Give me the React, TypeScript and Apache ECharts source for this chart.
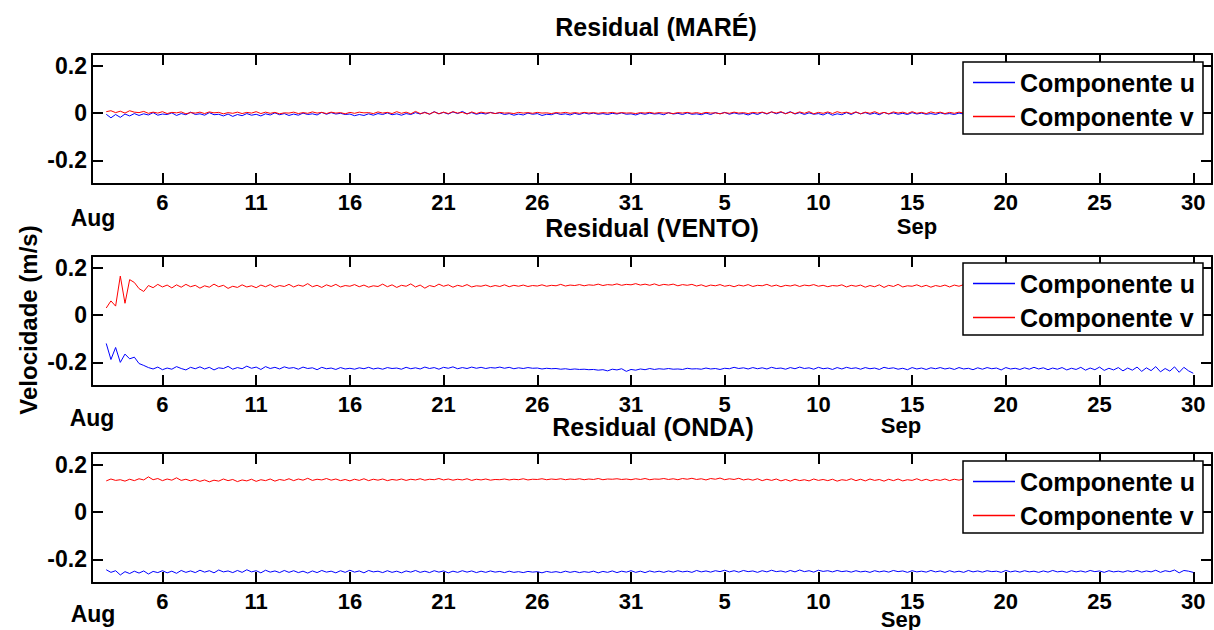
import React, { useEffect, useRef } from "react";
import * as echarts from "echarts";

// time axis: day number, Aug d = d, Sep d = 31 + d
const T_START = 3;
const T_STEP = 0.25;
const X_MIN = 2.24;
const X_MAX = 62;
const TICK_DAYS = [6, 11, 16, 21, 26, 31, 36, 41, 46, 51, 56, 61];
const Y_TICKS = [-0.2, 0, 0.2];
const Y_MIN = -0.3;
const Y_MAX = 0.25;
const PANEL_TITLES = ["Residual (MARÉ)", "Residual (VENTO)", "Residual (ONDA)"];
const SERIES_NAMES = ["Componente u", "Componente v"];
const Y_LABEL = "Velocidade (m/s)";

const MARE_U = [
  -0.005, -0.02, -0.006, -0.018, -0.004, -0.012, -0.002, -0.01, -0.003, -0.008, 0.002, -0.009, -0.004, -0.006, 0.001, -0.01, -0.002, -0.007, 0.004, -0.006,
  -0.003, -0.009, 0.002, -0.007, -0.005, -0.012, -0.004, -0.014, -0.006, -0.011, -0.002, -0.009, -0.005, -0.012, -0.003, -0.008, 0.001, -0.007, -0.002, -0.01,
  -0.004, -0.009, 0.0, -0.006, -0.003, -0.008, 0.003, -0.005, 0.002, -0.004, -0.001, -0.006, -0.004, -0.011, -0.006, -0.01, -0.003, -0.009, -0.002, -0.006,
  0.001, -0.007, -0.003, -0.009, -0.002, -0.006, 0.002, -0.004, 0.004, -0.005, 0.006, -0.003, 0.003, -0.004, 0.005, -0.002, 0.007, -0.003, 0.002, -0.005,
  0.0, -0.004, 0.003, -0.002, 0.001, -0.006, -0.002, -0.009, -0.004, -0.008, 0.0, -0.005, -0.002, -0.01, -0.005, -0.007, 0.0, -0.006, -0.003, -0.008,
  -0.001, -0.006, 0.001, -0.004, 0.0, -0.005, -0.002, -0.006, -0.001, -0.004, 0.001, -0.005, -0.003, -0.008, -0.001, -0.005, 0.0, -0.004, -0.002, -0.007,
  0.002, -0.004, -0.001, -0.006, 0.001, -0.005, -0.003, -0.007, 0.0, -0.006, 0.002, -0.003, 0.003, -0.005, 0.001, -0.004, -0.002, -0.008, 0.0, -0.006,
  0.003, -0.004, 0.005, -0.003, 0.004, -0.002, 0.006, -0.004, 0.002, -0.006, 0.001, -0.005, -0.002, -0.008, 0.001, -0.009, -0.003, -0.007, 0.002, -0.006,
  0.004, -0.003, 0.002, -0.005, 0.0, -0.007, 0.003, -0.004, 0.001, -0.005, -0.001, -0.006, 0.002, -0.004, 0.0, -0.005, -0.002, -0.006, 0.001, -0.004,
  -0.002, -0.006, 0.0, -0.004, -0.001, -0.005, 0.001, -0.004, 0.0, -0.006, -0.002, -0.005, 0.001, -0.004, -0.001, -0.006, 0.0, -0.005, 0.002, -0.004,
  0.0, -0.005, 0.001, -0.004, -0.002, -0.006, 0.001, -0.005, 0.002, -0.003, 0.0, -0.005, -0.001, -0.006, 0.001, -0.004, 0.0, -0.005, 0.002, -0.004,
  0.0, -0.005, 0.001, -0.004, -0.002, -0.006, 0.0, -0.005, 0.002, -0.004, 0.001, -0.005, -0.002,
];

const MARE_V = [
  0.006, 0.01, 0.002, 0.008, 0.0, 0.01, 0.004, 0.002, 0.007, -0.001, 0.004, 0.0, 0.006, -0.002, 0.003, 0.001, 0.005, -0.003, 0.002, 0.0,
  0.004, -0.002, 0.005, 0.001, 0.003, -0.003, 0.002, -0.001, 0.004, -0.002, 0.003, 0.0, 0.006, -0.002, 0.004, -0.001, 0.003, -0.003, 0.001, 0.0,
  0.004, -0.002, 0.002, -0.001, 0.005, 0.0, 0.003, -0.002, 0.004, 0.0, 0.002, -0.003, 0.003, -0.001, 0.004, 0.001, 0.002, -0.002, 0.005, 0.0,
  0.003, -0.002, 0.006, -0.001, 0.004, -0.003, 0.007, -0.002, 0.002, -0.004, 0.005, -0.003, 0.004, -0.002, 0.006, 0.0, 0.003, -0.004, 0.005, -0.002,
  0.004, 0.0, 0.002, -0.002, 0.003, 0.0, 0.001, -0.002, 0.003, 0.0, 0.002, -0.001, 0.003, 0.0, 0.001, -0.002, 0.002, 0.0, 0.003, -0.001,
  0.002, -0.001, 0.003, 0.0, 0.002, -0.001, 0.002, 0.0, 0.003, -0.001, 0.002, 0.0, 0.001, -0.002, 0.002, 0.0, 0.003, -0.001, 0.002, 0.0,
  0.001, -0.002, 0.002, 0.0, 0.003, -0.001, 0.002, -0.002, 0.003, 0.0, 0.001, -0.003, 0.002, -0.001, 0.004, 0.0, 0.002, -0.002, 0.003, 0.0,
  0.004, -0.002, 0.005, 0.0, 0.006, -0.003, 0.004, -0.002, 0.005, -0.001, 0.006, -0.003, 0.003, -0.001, 0.005, -0.002, 0.006, 0.0, 0.004, -0.002,
  0.005, -0.003, 0.004, -0.001, 0.006, -0.002, 0.003, -0.003, 0.005, 0.0, 0.004, -0.002, 0.006, -0.001, 0.003, -0.002, 0.005, 0.0, 0.004, -0.002,
  0.003, -0.001, 0.004, 0.0, 0.002, -0.002, 0.003, 0.0, 0.004, -0.001, 0.002, -0.002, 0.003, 0.0, 0.004, -0.001, 0.002, 0.0, 0.003, -0.001,
  0.004, -0.001, 0.003, 0.0, 0.002, -0.002, 0.004, 0.0, 0.003, -0.001, 0.002, 0.0, 0.004, -0.002, 0.003, 0.0, 0.002, -0.001, 0.003, 0.0,
  0.004, -0.001, 0.002, 0.0, 0.003, -0.002, 0.004, 0.0, 0.002, -0.001, 0.003, 0.0, 0.002,
];

const VENTO_U = [
  -0.12, -0.188, -0.137, -0.2, -0.165, -0.185, -0.178, -0.205, -0.213, -0.222, -0.228, -0.22, -0.231, -0.224, -0.229, -0.218, -0.226, -0.232, -0.221, -0.227,
  -0.219, -0.228, -0.221, -0.232, -0.223, -0.226, -0.217, -0.229, -0.222, -0.227, -0.216, -0.225, -0.22, -0.23, -0.218, -0.226, -0.221, -0.228, -0.219, -0.225,
  -0.222, -0.229, -0.22, -0.226, -0.223, -0.231, -0.221, -0.227, -0.224, -0.23, -0.222, -0.228, -0.225, -0.229, -0.223, -0.227, -0.221, -0.228, -0.224, -0.229,
  -0.222, -0.226, -0.224, -0.229, -0.221, -0.227, -0.223, -0.228, -0.22, -0.226, -0.222, -0.229, -0.221, -0.225, -0.219, -0.227, -0.222, -0.226, -0.22, -0.225,
  -0.221, -0.226, -0.222, -0.224, -0.22, -0.225, -0.221, -0.227, -0.223, -0.226, -0.222, -0.225, -0.224, -0.228, -0.225, -0.227, -0.226, -0.229, -0.227, -0.23,
  -0.228, -0.23, -0.229, -0.231, -0.23, -0.233, -0.231, -0.236, -0.229, -0.232, -0.227, -0.238, -0.23, -0.233, -0.228, -0.231, -0.226, -0.23, -0.227, -0.229,
  -0.226, -0.229, -0.228, -0.23, -0.225, -0.228, -0.227, -0.229, -0.224, -0.228, -0.226, -0.23, -0.225, -0.227, -0.221, -0.226, -0.223, -0.228, -0.222, -0.227,
  -0.223, -0.228, -0.221, -0.226, -0.224, -0.229, -0.222, -0.227, -0.22, -0.226, -0.223, -0.229, -0.221, -0.227, -0.224, -0.23, -0.222, -0.228, -0.221, -0.226,
  -0.223, -0.229, -0.222, -0.227, -0.224, -0.23, -0.221, -0.226, -0.223, -0.229, -0.225, -0.231, -0.222, -0.228, -0.224, -0.23, -0.223, -0.227, -0.222, -0.228,
  -0.224, -0.23, -0.222, -0.228, -0.225, -0.231, -0.223, -0.229, -0.222, -0.227, -0.224, -0.232, -0.222, -0.228, -0.225, -0.23, -0.223, -0.229, -0.221, -0.228,
  -0.223, -0.231, -0.224, -0.229, -0.222, -0.232, -0.225, -0.23, -0.221, -0.233, -0.224, -0.231, -0.22, -0.234, -0.225, -0.232, -0.222, -0.236, -0.224, -0.233,
  -0.22, -0.238, -0.223, -0.235, -0.218, -0.24, -0.226, -0.237, -0.219, -0.242, -0.221, -0.236, -0.246,
];

const VENTO_V = [
  0.03, 0.06, 0.038, 0.165, 0.05, 0.15, 0.138, 0.112, 0.1, 0.125, 0.116, 0.13, 0.119, 0.127, 0.115, 0.128, 0.118, 0.13, 0.12, 0.126,
  0.114, 0.124, 0.118, 0.131, 0.12, 0.126, 0.113, 0.122, 0.117, 0.128, 0.119, 0.124, 0.116, 0.127, 0.12, 0.129, 0.118, 0.125, 0.121, 0.13,
  0.119, 0.127, 0.122, 0.133, 0.12, 0.126, 0.117, 0.128, 0.121, 0.13, 0.119, 0.125, 0.122, 0.129, 0.12, 0.127, 0.118, 0.124, 0.121, 0.131,
  0.12, 0.128, 0.117, 0.126, 0.122, 0.132, 0.119, 0.127, 0.114, 0.125, 0.12, 0.131, 0.122, 0.128, 0.118, 0.126, 0.121, 0.129, 0.119, 0.124,
  0.122, 0.127, 0.12, 0.125, 0.121, 0.128, 0.12, 0.126, 0.122, 0.127, 0.121, 0.125, 0.123, 0.128, 0.122, 0.126, 0.124, 0.13, 0.123, 0.127,
  0.125, 0.129, 0.124, 0.128, 0.126, 0.131, 0.125, 0.129, 0.127, 0.132, 0.126, 0.13, 0.128, 0.133, 0.127, 0.131, 0.126, 0.132, 0.125, 0.13,
  0.127, 0.131, 0.124, 0.129, 0.126, 0.13, 0.123, 0.128, 0.121, 0.127, 0.124, 0.129, 0.122, 0.126, 0.12, 0.127, 0.123, 0.129, 0.121, 0.126,
  0.124, 0.13, 0.122, 0.127, 0.12, 0.126, 0.123, 0.128, 0.121, 0.127, 0.124, 0.129, 0.122, 0.126, 0.12, 0.125, 0.123, 0.128, 0.119, 0.126,
  0.122, 0.127, 0.118, 0.125, 0.12, 0.128, 0.117, 0.126, 0.121, 0.13, 0.119, 0.124, 0.122, 0.128, 0.12, 0.126, 0.118, 0.125, 0.121, 0.127,
  0.119, 0.127, 0.122, 0.129, 0.12, 0.126, 0.118, 0.127, 0.121, 0.128, 0.119, 0.125, 0.122, 0.13, 0.12, 0.126, 0.118, 0.127, 0.121, 0.129,
  0.12, 0.126, 0.118, 0.128, 0.121, 0.127, 0.119, 0.125, 0.122, 0.129, 0.12, 0.126, 0.118, 0.127, 0.121, 0.128, 0.119, 0.125, 0.122, 0.128,
  0.12, 0.127, 0.118, 0.126, 0.121, 0.129, 0.119, 0.125, 0.122, 0.128, 0.12, 0.126, 0.121,
];

const ONDA_U = [
  -0.244, -0.255, -0.248, -0.266, -0.252, -0.26, -0.25, -0.258, -0.249, -0.262, -0.251, -0.256, -0.248, -0.257, -0.25, -0.259, -0.247, -0.255, -0.249, -0.256,
  -0.246, -0.254, -0.248, -0.257, -0.245, -0.253, -0.249, -0.256, -0.247, -0.255, -0.244, -0.253, -0.248, -0.257, -0.246, -0.254, -0.249, -0.256, -0.247, -0.255,
  -0.248, -0.256, -0.25, -0.258, -0.249, -0.256, -0.247, -0.254, -0.25, -0.257, -0.248, -0.255, -0.246, -0.254, -0.249, -0.257, -0.247, -0.253, -0.25, -0.256,
  -0.248, -0.255, -0.25, -0.257, -0.249, -0.254, -0.247, -0.255, -0.25, -0.256, -0.248, -0.254, -0.249, -0.257, -0.25, -0.255, -0.248, -0.254, -0.249, -0.256,
  -0.25, -0.255, -0.249, -0.254, -0.251, -0.256, -0.25, -0.255, -0.252, -0.256, -0.251, -0.254, -0.252, -0.257, -0.251, -0.255, -0.252, -0.256, -0.25, -0.255,
  -0.251, -0.256, -0.252, -0.255, -0.25, -0.257, -0.251, -0.255, -0.249, -0.256, -0.25, -0.254, -0.248, -0.255, -0.25, -0.256, -0.249, -0.254, -0.25, -0.255,
  -0.249, -0.254, -0.248, -0.253, -0.25, -0.255, -0.247, -0.253, -0.249, -0.254, -0.248, -0.252, -0.246, -0.253, -0.248, -0.254, -0.247, -0.252, -0.249, -0.255,
  -0.248, -0.253, -0.246, -0.252, -0.249, -0.254, -0.247, -0.253, -0.245, -0.252, -0.248, -0.254, -0.246, -0.251, -0.248, -0.253, -0.247, -0.252, -0.249, -0.254,
  -0.248, -0.253, -0.25, -0.255, -0.248, -0.253, -0.249, -0.254, -0.247, -0.252, -0.249, -0.255, -0.248, -0.253, -0.25, -0.254, -0.247, -0.253, -0.249, -0.255,
  -0.248, -0.254, -0.25, -0.255, -0.247, -0.253, -0.249, -0.254, -0.248, -0.252, -0.25, -0.255, -0.247, -0.253, -0.249, -0.254, -0.248, -0.253, -0.25, -0.255,
  -0.249, -0.254, -0.247, -0.253, -0.25, -0.255, -0.248, -0.253, -0.249, -0.254, -0.247, -0.252, -0.249, -0.255, -0.248, -0.253, -0.25, -0.254, -0.248, -0.253,
  -0.247, -0.254, -0.249, -0.253, -0.246, -0.255, -0.248, -0.252, -0.245, -0.257, -0.247, -0.25, -0.255,
];

const ONDA_V = [
  0.132, 0.14, 0.134, 0.137, 0.131, 0.139, 0.133, 0.141, 0.136, 0.149, 0.137, 0.142, 0.133, 0.14, 0.135, 0.145, 0.134, 0.139, 0.132, 0.138,
  0.13, 0.136, 0.128, 0.135, 0.131, 0.14, 0.133, 0.138, 0.129, 0.136, 0.132, 0.139, 0.13, 0.137, 0.133, 0.14, 0.131, 0.138, 0.134, 0.141,
  0.133, 0.14, 0.135, 0.143, 0.134, 0.139, 0.136, 0.142, 0.135, 0.14, 0.133, 0.138, 0.132, 0.139, 0.134, 0.141, 0.133, 0.139, 0.135, 0.14,
  0.133, 0.138, 0.135, 0.14, 0.134, 0.139, 0.136, 0.141, 0.135, 0.139, 0.137, 0.142, 0.136, 0.14, 0.135, 0.139, 0.136, 0.141, 0.134, 0.139,
  0.136, 0.14, 0.135, 0.138, 0.137, 0.14, 0.136, 0.139, 0.137, 0.141, 0.136, 0.139, 0.138, 0.141, 0.137, 0.14, 0.138, 0.141, 0.137, 0.14,
  0.138, 0.141, 0.137, 0.14, 0.138, 0.142, 0.137, 0.14, 0.139, 0.141, 0.138, 0.14, 0.137, 0.141, 0.138, 0.142, 0.137, 0.14, 0.139, 0.142,
  0.138, 0.141, 0.137, 0.142, 0.139, 0.143, 0.138, 0.141, 0.136, 0.142, 0.139, 0.144, 0.137, 0.141, 0.138, 0.143, 0.136, 0.14, 0.135, 0.141,
  0.133, 0.139, 0.134, 0.14, 0.132, 0.138, 0.131, 0.139, 0.133, 0.137, 0.132, 0.14, 0.134, 0.138, 0.133, 0.139, 0.131, 0.137, 0.134, 0.141,
  0.133, 0.139, 0.132, 0.14, 0.134, 0.138, 0.131, 0.139, 0.133, 0.14, 0.132, 0.137, 0.134, 0.141, 0.133, 0.139, 0.132, 0.138, 0.134, 0.14,
  0.133, 0.139, 0.135, 0.14, 0.133, 0.138, 0.134, 0.141, 0.132, 0.139, 0.134, 0.14, 0.133, 0.138, 0.135, 0.141, 0.133, 0.139, 0.134, 0.14,
  0.133, 0.138, 0.135, 0.141, 0.132, 0.139, 0.134, 0.14, 0.133, 0.138, 0.135, 0.141, 0.133, 0.139, 0.134, 0.14, 0.132, 0.138, 0.135, 0.141,
  0.133, 0.139, 0.134, 0.14, 0.132, 0.138, 0.135, 0.141, 0.133, 0.139, 0.134, 0.14, 0.133,
];

const PANELS = [
  { u: MARE_U, v: MARE_V },
  { u: VENTO_U, v: VENTO_V },
  { u: ONDA_U, v: ONDA_V },
];

// layout (pixels)
const FONT = "'Liberation Sans', Arial, Helvetica, sans-serif";
const GRID_LEFT = 92;
const GRID_WIDTH = 1120;
const GRID_HEIGHT = 130;
const GRID_TOPS = [54, 256, 453];
const LEGEND_TOPS = [62, 263, 461];
const TITLE_POS = [
  [656, 27],
  [652, 228],
  [653, 427],
];
const AUG_POS = [
  [93, 218],
  [92, 418],
  [93, 614],
];
const SEP_POS = [
  [917, 226],
  [901, 425],
  [901, 619],
];

const U_COLOR = "#0000ff";
const V_COLOR = "#ff0000";
const LEGEND_LINE_ICON = "path://M0,0 L42,0 L42,1.4 L0,1.4 Z";

function toPairs(values: number[]) {
  return values.map((v, i) => [T_START + i * T_STEP, v]);
}

function dayLabel(v: number) {
  const d = Math.round(v);
  return String(d <= 31 ? d : d - 31);
}

export default function App() {
  const ref = useRef<HTMLDivElement>(null);

  useEffect(() => {
    if (!ref.current) return;
    const chart = echarts.init(ref.current, undefined, { renderer: "svg" });

    const axisLine = { show: true, onZero: false, lineStyle: { color: "#000", width: 2 } };
    const tickStyle = { color: "#000", width: 2 };
    const grids: any[] = [];
    const xAxes: any[] = [];
    const yAxes: any[] = [];
    const series: any[] = [];
    const legends: any[] = [];
    const graphics: any[] = [];

    PANELS.forEach((panel, p) => {
      grids.push({ left: GRID_LEFT, top: GRID_TOPS[p], width: GRID_WIDTH, height: GRID_HEIGHT, containLabel: false });
      xAxes.push({
        type: "value",
        gridIndex: p,
        position: "bottom",
        min: X_MIN,
        max: X_MAX,
        axisLine,
        splitLine: { show: false },
        axisTick: { show: true, inside: true, length: 11, lineStyle: tickStyle, customValues: TICK_DAYS },
        axisLabel: {
          show: true,
          customValues: TICK_DAYS,
          margin: 7,
          formatter: (v: number) => dayLabel(v),
          color: "#000",
          fontSize: 22,
          fontWeight: "bold",
          fontFamily: FONT,
        },
      });
      xAxes.push({
        type: "value",
        gridIndex: p,
        position: "top",
        min: X_MIN,
        max: X_MAX,
        axisLine,
        splitLine: { show: false },
        axisTick: { show: true, inside: true, length: 11, lineStyle: tickStyle, customValues: TICK_DAYS },
        axisLabel: { show: false },
      });
      yAxes.push({
        type: "value",
        gridIndex: p,
        position: "left",
        min: Y_MIN,
        max: Y_MAX,
        axisLine,
        splitLine: { show: false },
        axisTick: { show: true, inside: true, length: 11, lineStyle: tickStyle, customValues: Y_TICKS },
        axisLabel: {
          show: true,
          customValues: Y_TICKS,
          margin: 5,
          formatter: (v: number) => (Math.abs(v) < 1e-9 ? "0" : String(Math.round(v * 10) / 10)),
          color: "#000",
          fontSize: 23,
          fontWeight: "bold",
          fontFamily: FONT,
        },
      });
      yAxes.push({
        type: "value",
        gridIndex: p,
        position: "right",
        min: Y_MIN,
        max: Y_MAX,
        axisLine,
        splitLine: { show: false },
        axisTick: { show: true, inside: true, length: 11, lineStyle: tickStyle, customValues: Y_TICKS },
        axisLabel: { show: false },
      });

      series.push({
        type: "line",
        name: SERIES_NAMES[0],
        xAxisIndex: 2 * p,
        yAxisIndex: 2 * p,
        data: toPairs(panel.u),
        symbol: "none",
        silent: true,
        lineStyle: { color: U_COLOR, width: 1 },
        itemStyle: { color: U_COLOR },
        z: 2,
      });
      series.push({
        type: "line",
        name: SERIES_NAMES[1],
        xAxisIndex: 2 * p,
        yAxisIndex: 2 * p,
        data: toPairs(panel.v),
        symbol: "none",
        silent: true,
        lineStyle: { color: V_COLOR, width: 1 },
        itemStyle: { color: V_COLOR },
        z: 2,
      });

      legends.push({
        show: true,
        orient: "vertical",
        left: 963,
        top: LEGEND_TOPS[p],
        padding: [8, 8, 5, 10],
        itemGap: 9,
        itemWidth: 42,
        itemHeight: 24,
        icon: LEGEND_LINE_ICON,
        backgroundColor: "#fff",
        borderColor: "#000",
        borderWidth: 1.5,
        borderRadius: 0,
        selectedMode: false,
        z: 10,
        data: SERIES_NAMES,
        textStyle: { color: "#000", fontSize: 25, fontWeight: "bold", fontFamily: FONT },
      });

      graphics.push({
        type: "text",
        x: TITLE_POS[p][0],
        y: TITLE_POS[p][1],
        style: {
          text: PANEL_TITLES[p],
          textAlign: "center",
          textVerticalAlign: "middle",
          font: `bold 25px ${FONT}`,
          fill: "#000",
        },
      });
      graphics.push({
        type: "text",
        x: AUG_POS[p][0],
        y: AUG_POS[p][1],
        style: { text: "Aug", textAlign: "center", textVerticalAlign: "middle", font: `bold 23px ${FONT}`, fill: "#000" },
      });
      graphics.push({
        type: "text",
        x: SEP_POS[p][0],
        y: SEP_POS[p][1],
        style: { text: "Sep", textAlign: "center", textVerticalAlign: "middle", font: `bold 22px ${FONT}`, fill: "#000" },
      });
    });

    graphics.push({
      type: "text",
      x: 28,
      y: 320,
      rotation: Math.PI / 2,
      style: { text: Y_LABEL, textAlign: "center", textVerticalAlign: "middle", font: `bold 24px ${FONT}`, fill: "#000" },
    });

    chart.setOption({
      animation: false,
      backgroundColor: "#fff",
      grid: grids,
      xAxis: xAxes,
      yAxis: yAxes,
      legend: legends,
      series,
      graphic: graphics,
    });

    return () => chart.dispose();
  }, []);

  return (
    <div
      ref={ref}
      style={{ position: "fixed", left: 0, top: 0, width: 1214, height: 630, background: "#fff" }}
    />
  );
}
